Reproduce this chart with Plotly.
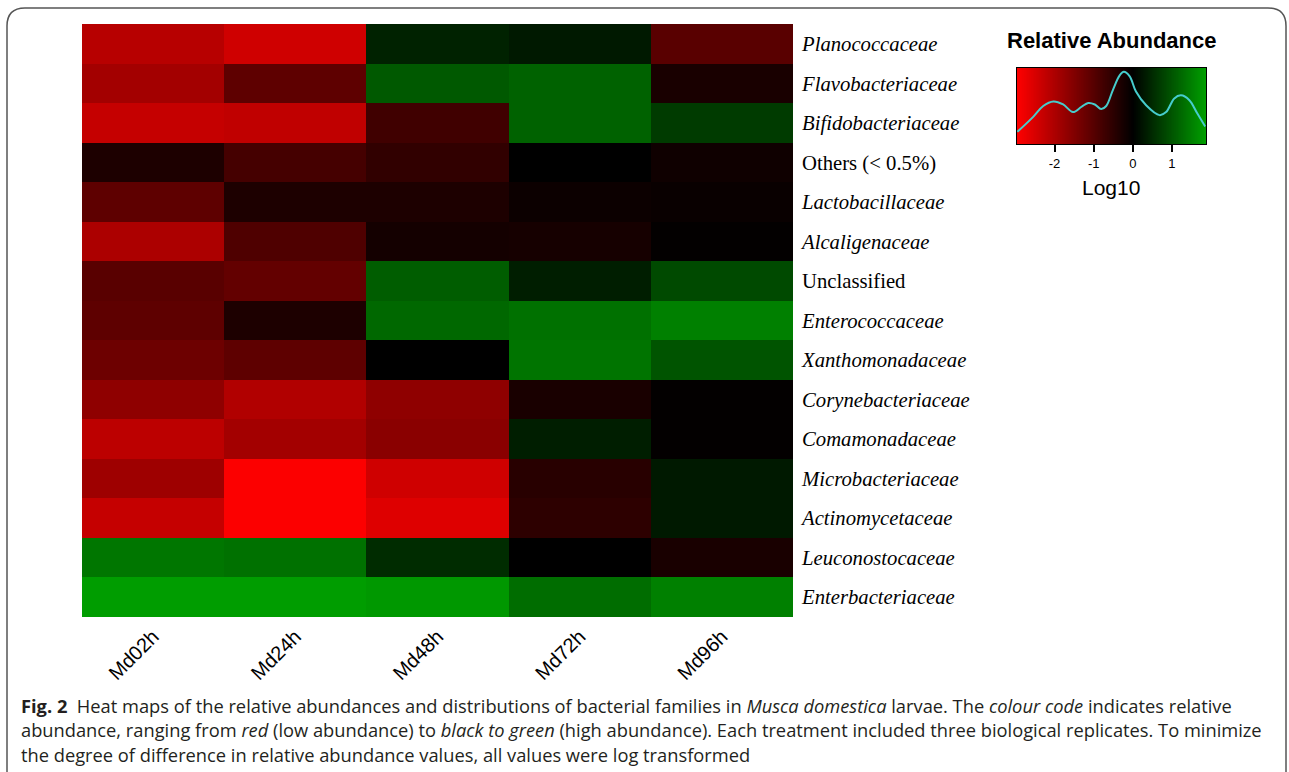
import numpy as np
import plotly.graph_objects as go

# ---------------- data ----------------
samples = ["Md02h", "Md24h", "Md48h", "Md72h", "Md96h"]
families = [
    "Planococcaceae", "Flavobacteriaceae", "Bifidobacteriaceae", "Others (< 0.5%)",
    "Lactobacillaceae", "Alcaligenaceae", "Unclassified", "Enterococcaceae",
    "Xanthomonadaceae", "Corynebacteriaceae", "Comamonadaceae", "Microbacteriaceae",
    "Actinomycetaceae", "Leuconostocaceae", "Enterbacteriaceae",
]
italic_label = [True, True, True, False, True, True, False, True,
                True, True, True, True, True, True, True]

# log10 relative abundance, one list per sample (rows follow `families`)
md02h = [-2.12, -1.89, -2.29, -0.34, -1.09, -2.00, -1.03, -1.09, -1.26, -1.66, -2.18, -1.83, -2.29, 1.38, 1.84]
md24h = [-2.40, -1.09, -2.23, -0.80, -0.34, -0.92, -1.15, -0.34, -1.09, -2.06, -1.89, -2.92, -2.92, 1.32, 1.84]
md48h = [0.40, 1.04, -0.74, -0.57, -0.34, -0.23, 1.09, 1.21, 0.00, -1.66, -1.60, -2.40, -2.58, 0.52, 1.78]
md72h = [0.29, 1.15, 1.15, 0.00, -0.14, -0.25, 0.35, 1.32, 1.36, -0.29, 0.35, -0.46, -0.52, 0.00, 1.27]
md96h = [-1.03, -0.29, 0.69, -0.17, -0.11, -0.03, 0.86, 1.50, 0.98, -0.03, -0.03, 0.29, 0.29, -0.29, 1.50]

# density curve drawn in the colour key (log10 value, relative height)
kde_x = [-2.95, -2.54, -2.29, -2.03, -1.78, -1.53, -1.31, -1.14, -0.97, -0.81, -0.68, -0.51,
         -0.34, -0.23, -0.08, 0.08, 0.34, 0.68, 0.85, 1.06, 1.23, 1.44, 1.65, 1.85]
kde_y = [0.16, 0.36, 0.50, 0.56, 0.52, 0.42, 0.49, 0.54, 0.52, 0.46, 0.50, 0.71,
         0.90, 0.95, 0.89, 0.69, 0.51, 0.38, 0.42, 0.60, 0.64, 0.58, 0.40, 0.23]

key_ticks = [-2, -1, 0, 1]

# ---------------- styling ----------------
W, H = 1289, 772
ZMIN, ZMAX = -2.96, 1.87
mid = -ZMIN / (ZMAX - ZMIN)
cscale = [[0.0, "rgb(255,0,0)"], [mid, "rgb(0,0,0)"], [1.0, "rgb(0,160,0)"]]


def px_x(p):
    return p / W


def px_y(p):
    return 1 - p / H


z = [list(r) for r in zip(md02h, md24h, md48h, md72h, md96h)]
ticktext = [f"<i>{f}</i>" if it else f for f, it in zip(families, italic_label)]

fig = go.Figure()
fig.add_trace(go.Heatmap(
    z=z, x=samples, y=list(range(len(families))),
    colorscale=cscale, zmin=ZMIN, zmax=ZMAX, showscale=False,
    hovertemplate="%{x}<br>%{z}<extra></extra>",
))

# colour key gradient
grad_x = np.linspace(ZMIN, ZMAX, 300)
fig.add_trace(go.Heatmap(
    z=[grad_x, grad_x], x=grad_x, y=[0, 1],
    colorscale=cscale, zmin=ZMIN, zmax=ZMAX, showscale=False,
    xaxis="x2", yaxis="y2", hoverinfo="skip",
))
fig.add_trace(go.Scatter(
    x=kde_x, y=kde_y, mode="lines", line=dict(color="rgb(70,205,205)", width=2, shape="spline"),
    xaxis="x2", yaxis="y2", hoverinfo="skip", showlegend=False,
))

fig.update_layout(
    width=W, height=H,
    margin=dict(l=0, r=0, t=0, b=0),
    paper_bgcolor="white", plot_bgcolor="white",
    showlegend=False,
    xaxis=dict(
        domain=[px_x(82), px_x(793)], anchor="y",
        tickangle=-45, ticks="", showgrid=False, zeroline=False,
        tickfont=dict(family="Liberation Sans, Arial", size=20, color="black"),
        showline=False, ticklabelstandoff=3,
    ),
    yaxis=dict(
        domain=[px_y(617), px_y(24)], anchor="x", side="right",
        tickvals=list(range(len(families))), ticktext=ticktext,
        autorange="reversed", ticks="", showgrid=False, zeroline=False,
        tickfont=dict(family="Liberation Serif, Times New Roman", size=20.7, color="black"),
        ticklabelstandoff=8,
    ),
    xaxis2=dict(
        domain=[px_x(1017), px_x(1206)], anchor="y2", range=[ZMIN, ZMAX],
        tickvals=key_ticks, ticktext=[str(t) for t in key_ticks],
        ticks="outside", ticklen=7, tickcolor="black", tickwidth=1.5,
        tickfont=dict(family="Liberation Sans, Arial", size=13, color="black"),
        showline=True, mirror=True, linecolor="black", linewidth=1,
        showgrid=False, zeroline=False,
    ),
    yaxis2=dict(
        domain=[px_y(144), px_y(68)], anchor="x2", range=[0, 1],
        showticklabels=False, ticks="",
        showline=True, mirror=True, linecolor="black", linewidth=1,
        showgrid=False, zeroline=False,
    ),
)

ann_font = dict(family="Open Sans, Lato, sans-serif", size=18.3, color="#231f20")
caption = [
    "<b>Fig. 2</b>  Heat maps of the relative abundances and distributions of bacterial families in "
    "<i>Musca domestica</i> larvae. The <i>colour code</i> indicates relative",
    "abundance, ranging from <i>red</i> (low abundance) to <i>black to green</i> (high abundance). "
    "Each treatment included three biological replicates. To minimize",
    "the degree of difference in relative abundance values, all values were log transformed",
]
annotations = [
    dict(x=px_x(1111), y=px_y(41), xref="paper", yref="paper", text="<b>Relative Abundance</b>",
         showarrow=False, xanchor="center", yanchor="middle",
         font=dict(family="Liberation Sans, Arial", size=22, color="black")),
    dict(x=px_x(1111), y=px_y(188), xref="paper", yref="paper", text="Log10",
         showarrow=False, xanchor="center", yanchor="middle",
         font=dict(family="Liberation Sans, Arial", size=21, color="black")),
]
for i, line in enumerate(caption):
    annotations.append(dict(
        x=px_x(19), y=px_y(705 + 24.5 * i), xref="paper", yref="paper", text=line,
        showarrow=False, xanchor="left", yanchor="middle", align="left", font=ann_font,
    ))
fig.update_layout(annotations=annotations)

# rounded frame around the figure
x0, x1, y0, y1, r = px_x(7), px_x(1286), px_y(8), px_y(790), 18
rx, ry = r / W, r / H
path = (f"M {x0},{y1} L {x0},{y0 - ry} Q {x0},{y0} {x0 + rx},{y0} "
        f"L {x1 - rx},{y0} Q {x1},{y0} {x1},{y0 - ry} L {x1},{y1}")
fig.add_shape(type="path", path=path, xref="paper", yref="paper",
              line=dict(color="#555555", width=1.5))

fig.write_html(
    "out.html",
    config={"displayModeBar": False},
    post_script="document.body.style.margin='0px';document.body.style.overflow='hidden';",
)
